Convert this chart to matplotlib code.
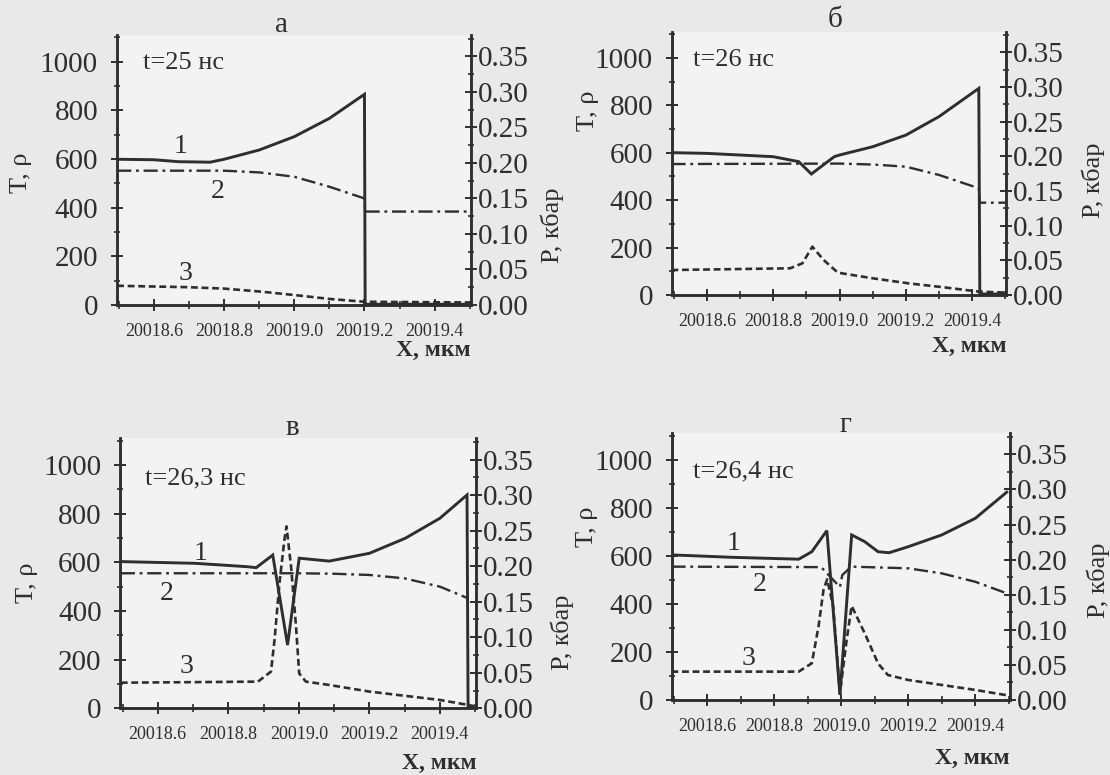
import numpy as np
import matplotlib
matplotlib.use('Agg')
import matplotlib.pyplot as plt
from matplotlib.ticker import MultipleLocator, FixedLocator, FormatStrFormatter

plt.rcParams['font.family'] = ['Liberation Serif', 'DejaVu Serif']

ink = '#2e2e2e'

# panel titles and times
titles = ['а', 'б', 'в', 'г']
times = ['t=25 нс', 't=26 нс', 't=26,3 нс', 't=26,4 нс']
xticks = [20018.6, 20018.8, 20019.0, 20019.2, 20019.4]

# а, t=25 нс
x1a = [20018.495, 20018.60, 20018.67, 20018.76, 20018.80, 20018.90, 20019.00, 20019.10, 20019.20, 20019.202, 20019.505]
T_a = [599, 597, 589, 587, 599, 637, 692, 767, 866, 3, 3]
x2a = [20018.495, 20018.80, 20018.90, 20019.00, 20019.10, 20019.20, 20019.202, 20019.505]
rho_a = [552, 552, 545, 527, 486, 438, 384, 384]
x3a = [20018.495, 20018.70, 20018.80, 20018.90, 20019.00, 20019.10, 20019.20, 20019.505]
P_a = [0.027, 0.025, 0.023, 0.019, 0.014, 0.0085, 0.0045, 0.0035]

# б, t=26 нс
x1b = [20018.493, 20018.60, 20018.80, 20018.877, 20018.915, 20018.984, 20019.00, 20019.10, 20019.20, 20019.30, 20019.42, 20019.423, 20019.503]
T_b = [600, 597, 583, 562, 510, 583, 590, 625, 674, 752, 871, 4, 4]
x2b = [20018.493, 20019.0, 20019.1, 20019.2, 20019.3, 20019.42, 20019.423, 20019.503]
rho_b = [552, 554, 550, 541, 506, 450, 389, 389]
x3b = [20018.493, 20018.851, 20018.888, 20018.918, 20018.952, 20018.995, 20019.101, 20019.208, 20019.315, 20019.421, 20019.496]
P_b = [0.036, 0.0385, 0.0457, 0.0697, 0.0505, 0.0322, 0.024, 0.0168, 0.011, 0.0048, 0.0035]

# в, t=26,3 нс
x1c = [20018.495, 20018.705, 20018.854, 20018.879, 20018.926, 20018.968, 20019.001, 20019.086, 20019.2, 20019.302, 20019.4, 20019.477, 20019.48, 20019.497]
T_c = [603, 596, 582, 578, 630, 260, 617, 605, 637, 699, 781, 877, 3, 3]
x2c = [20018.495, 20019.0, 20019.1, 20019.2, 20019.3, 20019.4, 20019.48]
rho_c = [555, 555, 553, 548, 534, 500, 452]
x3c = [20018.495, 20018.884, 20018.921, 20018.931, 20018.945, 20018.959, 20018.965, 20018.978, 20018.992, 20019.001, 20019.02, 20019.086, 20019.2, 20019.4, 20019.48, 20019.497]
P_c = [0.036, 0.0375, 0.0516, 0.096, 0.176, 0.237, 0.256, 0.199, 0.115, 0.049, 0.0375, 0.0328, 0.0235, 0.0117, 0.0047, 0.003]

# г, t=26,4 нс
x1d = [20018.493, 20018.671, 20018.873, 20018.912, 20018.957, 20018.996, 20019.031, 20019.07, 20019.11, 20019.143, 20019.2, 20019.3, 20019.4, 20019.494]
T_d = [604, 594, 586, 617, 705, 21, 687, 659, 617, 613, 638, 687, 756, 865]
x2d = [20018.493, 20018.94, 20018.996, 20019.003, 20019.03, 20019.2, 20019.3, 20019.4, 20019.494]
rho_d = [555, 553, 470, 520, 555, 548, 527, 492, 444]
x3d = [20018.493, 20018.873, 20018.912, 20018.932, 20018.947, 20018.958, 20018.976, 20018.996, 20019.016, 20019.031, 20019.07, 20019.11, 20019.139, 20019.2, 20019.3, 20019.4, 20019.494]
P_d = [0.0404, 0.0404, 0.0523, 0.1045, 0.157, 0.172, 0.133, 0.0095, 0.0855, 0.134, 0.095, 0.052, 0.0356, 0.0285, 0.0214, 0.0143, 0.0068]

curves = [
    (x1a, T_a, x2a, rho_a, x3a, P_a),
    (x1b, T_b, x2b, rho_b, x3b, P_b),
    (x1c, T_c, x2c, rho_c, x3c, P_c),
    (x1d, T_d, x2d, rho_d, x3d, P_d),
]

# curve number labels (x, y in T units), none on б
num_pos = [
    [(20018.676, 651), (20018.782, 466), (20018.69, 130)],
    [],
    [(20018.72, 637), (20018.625, 473), (20018.68, 171)],
    [(20018.677, 652), (20018.755, 479), (20018.724, 173)],
]

# layout (figure fractions) and label positions (axes fractions)
rects = [
    [0.1052, 0.6065, 0.3189, 0.3484],
    [0.6052, 0.6194, 0.3014, 0.3397],
    [0.1085, 0.0861, 0.3205, 0.3484],
    [0.6052, 0.0968, 0.3045, 0.3441],
]
title_xy = [(0.464, 1.037), (0.487, 1.044), (0.482, 1.037), (0.513, 1.031)]
time_xy = [(0.075, 0.895), (0.063, 0.892), (0.07, 0.852), (0.063, 0.856)]
ylab_l = [(-0.27, 0.49), (-0.25, 0.70), (-0.264, 0.464), (-0.251, 0.649)]
ylab_r = [(1.229, 0.296), (1.26, 0.437), (1.241, 0.283), (1.261, 0.45)]
xlab_y = [-0.167, -0.196, -0.204, -0.219]

fig = plt.figure(figsize=(11.1, 7.75), dpi=100)
fig.patch.set_facecolor('#e9e9e9')

for i in range(4):
    x1, T, x2, rho, x3, P = curves[i]
    ax = fig.add_axes(rects[i])
    ax.set_facecolor('#f3f3f3')
    ax2 = ax.twinx()

    ax.plot(x1, T, color=ink, lw=2.1, solid_joinstyle='miter')
    ax.plot(x2, rho, color=ink, lw=1.7, dashes=(6, 2, 1.2, 2))
    ax2.plot(x3, P, color=ink, lw=1.9, dashes=(2.6, 1.4))

    ax.set_xlim(20018.494, 20019.503)
    ax.set_ylim(0, 1110)
    ax2.set_ylim(0, 0.38)

    for a in (ax, ax2):
        a.spines['top'].set_visible(False)
        for s in ('left', 'right', 'bottom'):
            a.spines[s].set_linewidth(1.8)
            a.spines[s].set_color(ink)

    ax.xaxis.set_major_locator(FixedLocator(xticks))
    ax.xaxis.set_minor_locator(MultipleLocator(0.1))
    ax.xaxis.set_major_formatter(FormatStrFormatter('%.1f'))
    ax.yaxis.set_major_locator(MultipleLocator(200))
    ax.yaxis.set_minor_locator(MultipleLocator(100))
    ax2.yaxis.set_major_locator(MultipleLocator(0.05))
    ax2.yaxis.set_minor_locator(MultipleLocator(0.025))
    ax2.yaxis.set_major_formatter(FormatStrFormatter('%.2f'))

    ax.tick_params(axis='x', which='major', direction='inout', length=8, width=1.4,
                   color=ink, labelcolor=ink, labelsize=13, pad=9)
    ax.tick_params(axis='x', which='minor', direction='inout', length=6, width=1.2, color=ink)
    ax.tick_params(axis='y', which='major', direction='inout', length=9, width=1.4,
                   color=ink, labelcolor=ink, labelsize=21, pad=9)
    ax.tick_params(axis='y', which='minor', direction='inout', length=5, width=1.2, color=ink)
    ax2.tick_params(axis='y', which='major', direction='inout', length=8, width=1.4,
                    color=ink, labelcolor=ink, labelsize=21, pad=1)
    ax2.tick_params(axis='y', which='minor', direction='inout', length=5, width=1.2, color=ink)

    ax.set_ylabel('T, ρ', fontsize=19, color=ink, ha='center', va='center')
    ax.yaxis.set_label_coords(*ylab_l[i])
    ax2.set_ylabel('P, кбар', fontsize=19, color=ink, ha='center', va='center')
    ax2.yaxis.set_label_coords(*ylab_r[i])
    ax.set_xlabel('X, мкм', fontsize=17, color=ink, ha='right', va='center', fontweight='bold')
    ax.xaxis.set_label_coords(1.0, xlab_y[i])

    ax.text(title_xy[i][0], title_xy[i][1], titles[i], transform=ax.transAxes,
            fontsize=21, color=ink, ha='center', va='center')
    ax.text(time_xy[i][0], time_xy[i][1], times[i], transform=ax.transAxes,
            fontsize=19, color=ink, ha='left', va='center')
    for k, (px, py) in enumerate(num_pos[i]):
        ax.text(px, py, str(k + 1), fontsize=20, color=ink, ha='center', va='center')

fig.savefig('out.png', dpi=100, facecolor=fig.get_facecolor())
